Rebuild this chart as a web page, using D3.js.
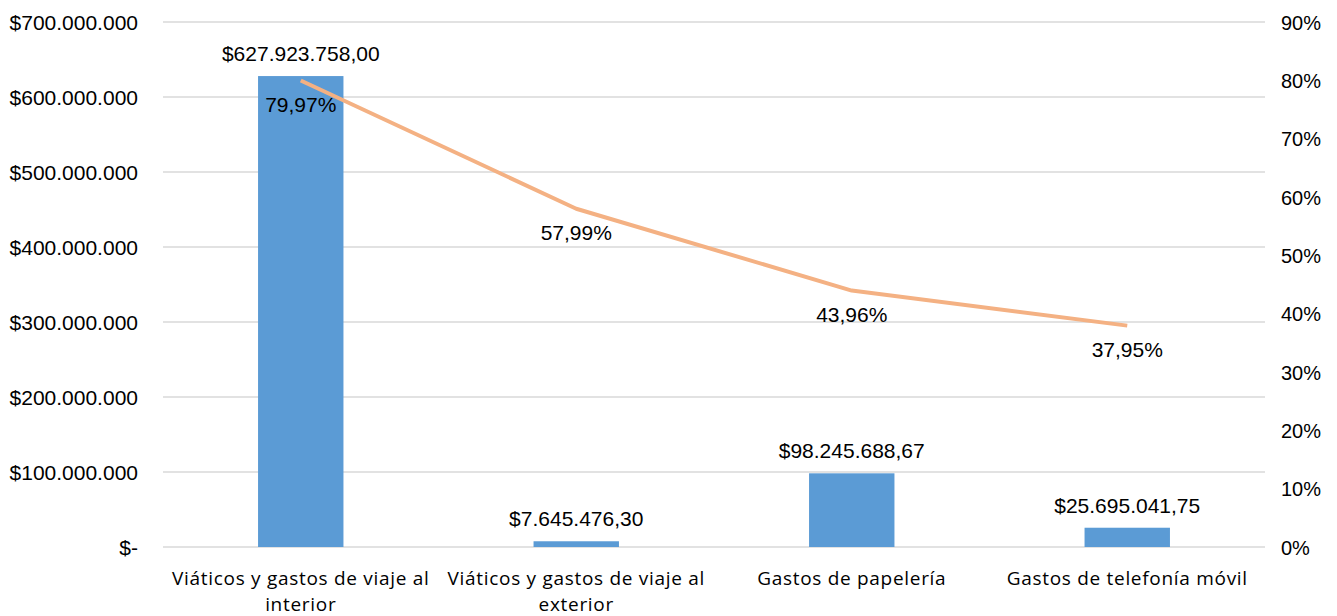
<!DOCTYPE html>
<html><head><meta charset="utf-8">
<script src="https://cdn.jsdelivr.net/npm/d3@7"></script>
<style>body{margin:0;background:#fff}</style>
</head><body>
<svg id="c" width="1337" height="616"></svg>
<script>
const categories = [["Viáticos y gastos de viaje al","interior"],["Viáticos y gastos de viaje al","exterior"],["Gastos de papelería"],["Gastos de telefonía móvil"]];
const amounts = [627923758.00, 7645476.30, 98245688.67, 25695041.75];
const amountLabels = ["$627.923.758,00","$7.645.476,30","$98.245.688,67","$25.695.041,75"];
const percents = [79.97, 57.99, 43.96, 37.95];
const percentLabels = ["79,97%","57,99%","43,96%","37,95%"];
const leftTicks = [0,100e6,200e6,300e6,400e6,500e6,600e6,700e6];
const leftTickLabels = ["$-","$100.000.000","$200.000.000","$300.000.000","$400.000.000","$500.000.000","$600.000.000","$700.000.000"];
const rightTicks = [0,10,20,30,40,50,60,70,80,90];

const svg = d3.select("#c");
const L = 163, R = 1265, T = 22, B = 547;
const x = d3.scaleBand().domain(d3.range(categories.length)).range([L,R]).paddingInner(0.69).paddingOuter(0.345);
const y = d3.scaleLinear().domain([0,700e6]).range([B,T]);
const y2 = d3.scaleLinear().domain([0,90]).range([B,T]);
const cx = i => x(i) + x.bandwidth()/2;
const af = "Liberation Sans, Arial, sans-serif";
const fs = 21;

// gridlines
svg.append("g").selectAll("line").data(leftTicks).join("line")
  .attr("x1",L).attr("x2",R).attr("y1",d=>y(d)).attr("y2",d=>y(d))
  .attr("stroke","#d9d9d9").attr("stroke-width",1.3);

// left axis
const la = svg.append("g").attr("transform",`translate(${L},0)`)
  .call(d3.axisLeft(y).tickValues(leftTicks).tickFormat((d,i)=>leftTickLabels[i]).tickSize(0).tickPadding(25));
la.select(".domain").remove();
la.selectAll("text").attr("font-family",af).attr("font-size",fs).attr("fill","#000").attr("dy","0.35em");

// right axis
const ra = svg.append("g").attr("transform",`translate(${R},0)`)
  .call(d3.axisRight(y2).tickValues(rightTicks).tickFormat(d=>d+"%").tickSize(0).tickPadding(16));
ra.select(".domain").remove();
ra.selectAll("text").attr("font-family",af).attr("font-size",20).attr("fill","#000").attr("dy","0.35em");

// bars
svg.append("g").selectAll("rect").data(amounts).join("rect")
  .attr("x",(d,i)=>x(i)).attr("width",x.bandwidth())
  .attr("y",d=>y(d)).attr("height",d=>B-y(d)).attr("fill","#5B9BD5");

// bar labels
svg.append("g").selectAll("text").data(amounts).join("text")
  .attr("x",(d,i)=>cx(i)).attr("y",d=>y(d)-15)
  .attr("text-anchor","middle").attr("font-family",af).attr("font-size",fs).attr("fill","#000")
  .text((d,i)=>amountLabels[i]);

// line
const line = d3.line().x((d,i)=>cx(i)).y(d=>y2(d));
svg.append("path").datum(percents).attr("d",line).attr("fill","none")
  .attr("stroke","#F4B183").attr("stroke-width",4).attr("stroke-linejoin","round");

// percent labels
svg.append("g").selectAll("text").data(percents).join("text")
  .attr("x",(d,i)=>cx(i)).attr("y",d=>y2(d)+31)
  .attr("text-anchor","middle").attr("font-family",af).attr("font-size",fs).attr("fill","#000")
  .text((d,i)=>percentLabels[i]);

// category labels
const cg = svg.append("g");
categories.forEach((lines,i)=>{
  const t = cg.append("text").attr("x",cx(i)).attr("y",585).attr("text-anchor","middle")
    .attr("font-family","Open Sans, sans-serif").attr("font-size",19).attr("letter-spacing",0.7).attr("fill","#000");
  lines.forEach((s,j)=>t.append("tspan").attr("x",cx(i)).attr("dy",j?26:0).text(s));
});
</script>
</body></html>
